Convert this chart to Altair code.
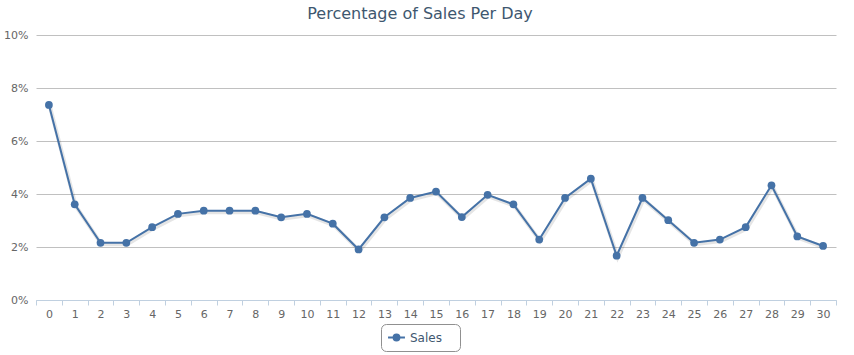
import altair as alt
import pandas as pd

days = list(range(31))
sales = [7.36, 3.61, 2.16, 2.16, 2.75, 3.25, 3.37, 3.37, 3.37, 3.12,
         3.25, 2.88, 1.91, 3.12, 3.85, 4.09, 3.13, 3.97, 3.61, 2.28,
         3.85, 4.58, 1.67, 3.85, 3.01, 2.16, 2.28, 2.75, 4.33, 2.40, 2.04]
series = ["Sales"] * len(days)

df = pd.DataFrame({"day": days, "pct": sales, "series": series})

BLUE = "#4572A7"
FONT = "DejaVu Sans"

x_enc = alt.X("day:O", bandPosition=0.5,
              scale=alt.Scale(type="band", paddingInner=0, paddingOuter=0),
              axis=alt.Axis(title=None, labelAngle=0, tickBand="extent",
                            domainColor="#C0D0E0", tickColor="#C0D0E0",
                            tickSize=5, labelColor="#666666", labelFontSize=11,
                            labelFont=FONT, labelPadding=3, grid=False))
y_enc = alt.Y("pct:Q", scale=alt.Scale(domain=[0, 10], nice=False),
              axis=alt.Axis(title=None, values=[0, 2, 4, 6, 8, 10],
                            labelExpr="datum.value + '%'", domain=False,
                            ticks=False, gridColor="#C0C0C0", gridWidth=1,
                            labelColor="#666666", labelFontSize=11,
                            labelFont=FONT, labelPadding=8))

base = alt.Chart(df)

shadow = base.mark_line(color="#000000", strokeWidth=4, opacity=0.1,
                        xOffset=1, yOffset=1.5).encode(x=x_enc, y=y_enc)

legend_symbol = "M-1.3,0H1.3M-0.45,0A0.45,0.45 0 1,1 0.45,0A0.45,0.45 0 1,1 -0.45,0Z"

line = base.mark_line(strokeWidth=2, point=alt.OverlayMarkDef(size=60, filled=True, opacity=1)).encode(
    x=x_enc, y=y_enc,
    color=alt.Color("series:N", scale=alt.Scale(range=[BLUE]),
                    legend=alt.Legend(title=None, orient="none",
                                      legendX=345, legendY=289,
                                      strokeColor="#909090", cornerRadius=5,
                                      padding=6, symbolType=legend_symbol,
                                      symbolSize=169, symbolStrokeWidth=2,
                                      labelFontSize=12, labelColor="#3E576F",
                                      labelFont=FONT, labelLimit=200,
                                      labelExpr="datum.label + '\u2003\u200b'",
                                      symbolOffset=2)),
)

chart = alt.layer(shadow, line).properties(
    width=800, height=265,
    padding={"left": 36, "top": 35, "right": 18, "bottom": 55},
    autosize=alt.AutoSizeParams(type="none"),
    title=alt.TitleParams("Percentage of Sales Per Day", font=FONT, fontSize=16,
                          fontWeight="normal", color="#3E576F", anchor="middle",
                          dx=-16, offset=7),
).configure_view(stroke=None).configure_legend(labelOffset=6)

chart.save("out.html", embed_options={"renderer": "svg", "actions": False})
